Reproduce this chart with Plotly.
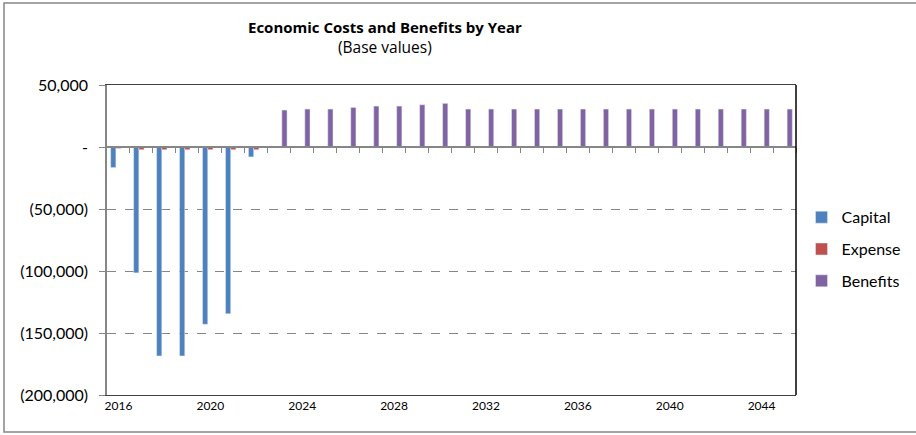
import plotly.graph_objects as go

years = list(range(2016, 2046))
capital = [-16600, -101500, -168500, -168500, -143000, -134500, -8000] + [0] * 23
expense = [-1200, -2200, -2200, -2200, -2200, -2200, -2200] + [0] * 23
benefits = [0] * 7 + [29800, 30600, 30600, 31900, 33000, 33000, 34100, 35200] + [30600] * 15

label_years = list(range(2016, 2045, 4))
y_ticks = [50000, 0, -50000, -100000, -150000, -200000]


def acct(v):
    if v == 0:
        return "-"
    if v < 0:
        return "({:,})".format(-v)
    return "{:,}".format(v)


y_text = [acct(v) for v in y_ticks]

FONT = "Lato"
GRAY = "#868686"

fig = go.Figure()
fig.add_trace(go.Bar(x=years, y=capital, name="Capital", marker_color="#4F81BD", legendgroup="a"))
fig.add_trace(go.Bar(x=years, y=expense, name="Expense", marker_color="#C0504D", legendgroup="b"))
fig.add_trace(go.Bar(x=years, y=benefits, name="Benefits", marker_color="#8064A2", legendgroup="c"))
# helper trace so the zero category axis is drawn
fig.add_trace(go.Scatter(x=[years[0]], y=[0], xaxis="x2", mode="markers",
                         marker=dict(opacity=0), showlegend=False, hoverinfo="skip"))

x_range = [years[0] - 0.5, years[-1] + 0.5]
boundaries = [y + 0.5 for y in years]

fig.update_layout(
    width=916, height=435,
    margin=dict(l=107, r=120, t=85, b=40, autoexpand=False),
    paper_bgcolor="white", plot_bgcolor="white",
    barmode="group", bargap=0.32, bargroupgap=0,
    font=dict(family=FONT, color="black"),
    showlegend=True,
    legend=dict(x=1.008, xanchor="left", y=0.47, yanchor="middle",
                font=dict(size=16, family=FONT), tracegroupgap=8,
                traceorder="grouped", bgcolor="rgba(0,0,0,0)"),
    xaxis=dict(range=x_range, tickvals=label_years, ticks="", showgrid=False,
               zeroline=False, showline=True, linecolor="#404040", mirror=True,
               tickfont=dict(size=12, family=FONT)),
    xaxis2=dict(range=x_range, overlaying="x", anchor="free", position=0.8,
                side="bottom", tickvals=boundaries, ticks="outside", ticklen=5,
                tickcolor=GRAY, showticklabels=False, showline=True,
                linecolor=GRAY, linewidth=1.5, showgrid=False, zeroline=False),
    yaxis=dict(range=[-200000, 50000], tickvals=y_ticks, ticktext=y_text,
               showgrid=True, gridcolor=GRAY, griddash="dash", gridwidth=1,
               zeroline=False, showline=True, linecolor=GRAY, linewidth=1.5,
               ticks="outside", ticklen=6, tickcolor=GRAY,
               ticklabelstandoff=8, tickfont=dict(size=16, family=FONT)),
    annotations=[
        dict(text="<b>Economic Costs and Benefits by Year</b>", xref="paper", yref="paper",
             x=0.4035, y=1.187, showarrow=False, font=dict(size=15, family="Open Sans"),
             xanchor="center", yanchor="middle"),
        dict(text="(Base values)", xref="paper", yref="paper",
             x=0.4035, y=1.1226, showarrow=False, font=dict(size=15.5, family="Open Sans"),
             xanchor="center", yanchor="middle"),
    ],
    shapes=[
        dict(type="line", xref="paper", yref="paper", x0=1, x1=1, y0=0, y1=1,
             line=dict(color="black", width=1.5)),
        dict(type="rect", xref="paper", yref="paper", x0=-0.1495, x1=1.2,
             y0=-0.119, y1=1.2645, line=dict(color=GRAY, width=1.5)),
    ],
)

fig.write_html("out.html")
